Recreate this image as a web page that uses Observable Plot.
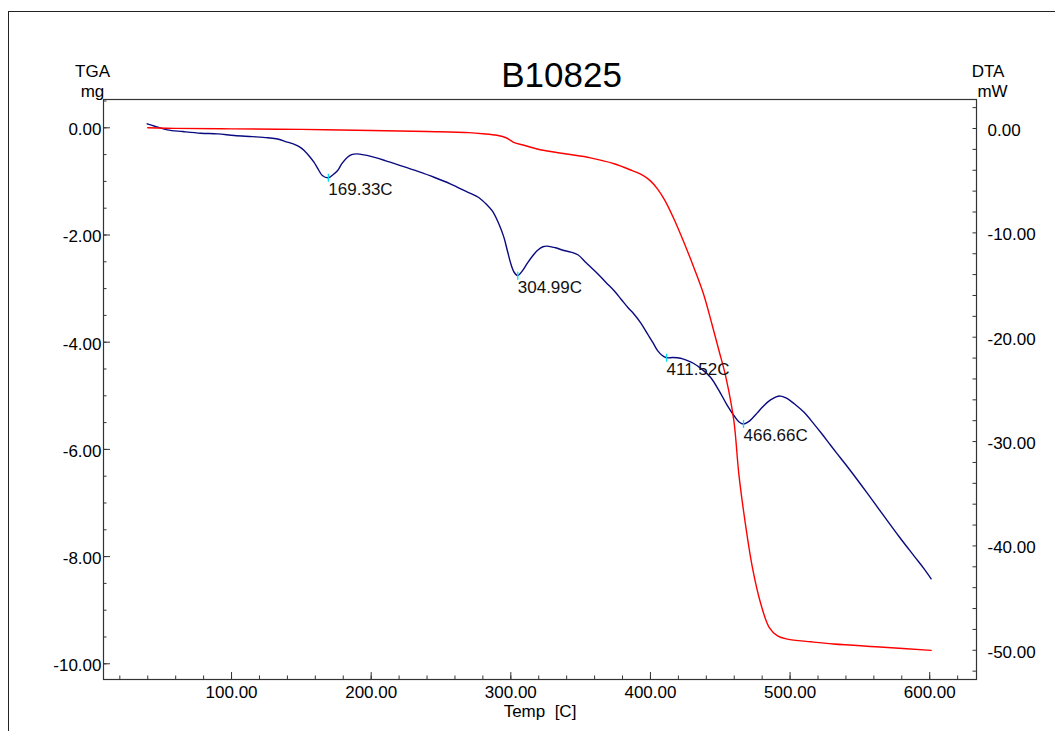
<!DOCTYPE html>
<html>
<head>
<meta charset="utf-8">
<script src="https://cdn.jsdelivr.net/npm/d3@7"></script>
<script src="https://cdn.jsdelivr.net/npm/@observablehq/plot@0.6"></script>
<style>
  body { margin: 0; background: #fff; }
  #wrap { position: relative; width: 1055px; height: 731px; overflow: hidden; background: #fff; }
  #wrap svg { position: absolute; left: 0; top: 0; }
  #border { position: absolute; left: 8px; top: 11px; width: 1200px; height: 900px;
            border-left: 1px solid #222; border-top: 1px solid #222; pointer-events: none; }
</style>
</head>
<body>
<div id="wrap"><div id="border"></div></div>
<script>
// ---- data ----
const title = "B10825";
const xLabel = "Temp\u00a0 [C]";
const leftLabel = ["TGA", "mg"];
const rightLabel = ["DTA", "mW"];

// TGA (red): temperature [C], mass [mg]
const tempTGA = [40, 60, 100, 150, 200, 240, 270, 280, 290, 297, 302, 310, 321, 340, 357, 374, 387, 394, 400, 405, 410, 417, 424, 431, 438, 444, 449, 454, 459.7, 463.3, 468, 473, 479, 485, 491, 498, 515, 531, 567, 601];
const massTGA = [0.00, -0.01, -0.02, -0.03, -0.05, -0.07, -0.09, -0.11, -0.14, -0.19, -0.27, -0.33, -0.41, -0.49, -0.56, -0.67, -0.80, -0.88, -0.99, -1.14, -1.34, -1.71, -2.14, -2.60, -3.10, -3.66, -4.15, -4.65, -5.46, -6.46, -7.39, -8.20, -8.88, -9.32, -9.48, -9.54, -9.59, -9.63, -9.69, -9.75];

// DTA (blue): temperature [C], heat flow [mW]
const tempDTA = [39.6, 45, 54, 65, 78, 90, 102, 115, 126, 133, 140, 145, 149.5, 152, 156, 159, 162, 165, 169.33, 172, 176, 179, 183, 186, 190, 197, 210, 221, 233, 245, 257, 269, 277, 283, 287, 291.4, 295, 297.5, 300, 302.5, 304.99, 308, 312, 316, 319, 323, 326, 332, 338, 343, 348, 354, 360, 365, 369, 374, 379, 384, 388, 393, 398, 402, 405, 408, 411.52, 416, 421.5, 426, 431, 437, 443, 449, 455, 460, 463.5, 466.66, 470, 473, 476.5, 481, 486, 490, 493, 497, 503, 510, 517, 523, 529, 536, 543, 555, 567, 578, 589, 596, 601];
const powerDTA = [0.45, 0.22, -0.13, -0.29, -0.45, -0.51, -0.67, -0.78, -0.89, -1.01, -1.31, -1.52, -1.83, -2.11, -2.71, -3.23, -3.89, -4.50, -4.72, -4.50, -4.02, -3.37, -2.75, -2.50, -2.43, -2.58, -3.07, -3.55, -4.09, -4.67, -5.32, -6.09, -6.61, -7.33, -7.94, -9.13, -10.41, -11.69, -12.96, -13.80, -14.10, -13.69, -12.87, -12.15, -11.69, -11.33, -11.27, -11.43, -11.69, -11.84, -12.10, -12.87, -13.64, -14.31, -14.87, -15.54, -16.36, -17.18, -17.75, -18.62, -19.70, -20.57, -21.26, -21.70, -21.97, -21.95, -22.01, -22.22, -22.52, -23.09, -23.83, -25.09, -26.53, -27.55, -28.12, -28.32, -28.12, -27.76, -27.25, -26.58, -26.01, -25.71, -25.64, -25.81, -26.37, -27.20, -28.30, -29.30, -30.35, -31.55, -32.75, -34.90, -37.10, -39.10, -41.00, -42.20, -43.15];

// DTA peak annotations
const peakTemps = [169.33, 304.99, 411.52, 466.66];
const peakLabels = ["169.33C", "304.99C", "411.52C", "466.66C"];

// axis ticks
const xTicks = [100, 200, 300, 400, 500, 600];
const xMinorTicks = [20, 40, 60, 80, 100, 120, 140, 160, 180, 200, 220, 240, 260, 280, 300, 320, 340, 360, 380, 400, 420, 440, 460, 480, 500, 520, 540, 560, 580, 600, 620];
const tgaTicks = [0, -2, -4, -6, -8, -10];
const tgaMinorTicks = [0.5, 0, -0.5, -1, -1.5, -2, -2.5, -3, -3.5, -4, -4.5, -5, -5.5, -6, -6.5, -7, -7.5, -8, -8.5, -9, -9.5, -10];
const dtaTicks = [0, -10, -20, -30, -40, -50];
const dtaMinorTicks = [2, 0, -2, -4, -6, -8, -10, -12, -14, -16, -18, -20, -22, -24, -26, -28, -30, -32, -34, -36, -38, -40, -42, -44, -46, -48, -50, -52];

// scale domains (left TGA axis, right DTA axis share the same vertical extent)
const xDomain = [8.3, 633.5];
const tgaDomain = [-10.293, 0.528];
const dtaDomain = [-52.8, 2.78];

// ---- layout ----
const W = 1055, H = 731;
const mL = 103, mR = 79, mT = 99, mB = 52;
const frameW = W - mL - mR, frameH = H - mT - mB;

const toTga = d3.scaleLinear(dtaDomain, tgaDomain);
const toDta = d3.scaleLinear(tgaDomain, dtaDomain);

const tga = tempTGA.map((t, i) => ({t, mg: massTGA[i]}));
const dta = tempDTA.map((t, i) => ({t, mw: powerDTA[i]}));
const peaks = peakTemps.map((t, i) => ({t, mw: powerDTA[tempDTA.indexOf(t)], label: peakLabels[i]}));

const vbar = {
  draw(ctx, size) {
    const h = Math.sqrt(size / Math.PI);
    ctx.moveTo(0, -h);
    ctx.lineTo(0, h);
  }
};

const axisColor = "#333";
const font = "'Liberation Sans', Arial, sans-serif";

const chart = Plot.plot({
  width: W,
  height: H,
  marginLeft: mL,
  marginRight: mR,
  marginTop: mT,
  marginBottom: mB,
  style: {fontFamily: font, fontSize: "17px", color: "#000", background: "transparent", overflow: "visible"},
  x: {domain: xDomain, axis: null},
  y: {domain: tgaDomain, axis: null},
  marks: [
    Plot.frame({stroke: axisColor, strokeWidth: 1.2}),
    // x ticks (inward)
    Plot.tickX(xMinorTicks, {x: d => d, insetTop: frameH - 3.5, stroke: axisColor}),
    Plot.tickX(xTicks, {x: d => d, insetTop: frameH - 7, stroke: axisColor}),
    // left TGA ticks
    Plot.tickY(tgaMinorTicks, {y: d => d, insetRight: frameW - 3.5, stroke: axisColor}),
    Plot.tickY(tgaTicks, {y: d => d, insetRight: frameW - 7, stroke: axisColor}),
    // right DTA ticks
    Plot.tickY(dtaMinorTicks, {y: d => toTga(d), insetLeft: frameW - 3.5, stroke: axisColor}),
    // axes labels
    Plot.axisX({ticks: xTicks, tickSize: 0, tickPadding: 6, tickFormat: d => d.toFixed(2), label: null, fontSize: 17}),
    Plot.axisY({ticks: tgaTicks, tickSize: 0, tickPadding: 2, dy: 2, tickFormat: d => d.toFixed(2), label: null, fontSize: 17}),
    Plot.axisY({anchor: "right", ticks: dtaTicks.map(d => toTga(d)), tickSize: 0, tickPadding: 11, dy: 2,
      tickFormat: d => (Math.round(toDta(d) * 100) / 100 + 0).toFixed(2), label: null, fontSize: 17}),
    // curves
    Plot.line(dta, {x: "t", y: d => toTga(d.mw), stroke: "#0a0a80", strokeWidth: 1.4, curve: "catmull-rom"}),
    Plot.line(tga, {x: "t", y: "mg", stroke: "#ff0000", strokeWidth: 1.4, curve: "catmull-rom"}),
    // peak markers
    Plot.dot(peaks, {x: "t", y: d => toTga(d.mw), symbol: vbar, r: 4, fill: "none", stroke: "#00e0f0", strokeWidth: 1.3}),
    Plot.text(peaks, {x: "t", y: d => toTga(d.mw), text: "label", textAnchor: "start", lineAnchor: "top", dy: 5, fontSize: 17, fill: "#111"}),
    // title & axis titles
    Plot.text([title], {text: d => d, frameAnchor: "top", lineAnchor: "middle", dx: 21.5, dy: -24, fontSize: 35, fill: "#000"}),
    Plot.text([leftLabel[0]], {text: d => d, frameAnchor: "top-left", textAnchor: "middle", lineAnchor: "middle", dx: -11, dy: -27.7, fontSize: 17}),
    Plot.text([leftLabel[1]], {text: d => d, frameAnchor: "top-left", textAnchor: "middle", lineAnchor: "middle", dx: -11, dy: -8.4, fontSize: 17}),
    Plot.text([rightLabel[0]], {text: d => d, frameAnchor: "top-right", textAnchor: "middle", lineAnchor: "middle", dx: 11.5, dy: -27.7, fontSize: 17}),
    Plot.text([rightLabel[1]], {text: d => d, frameAnchor: "top-right", textAnchor: "middle", lineAnchor: "middle", dx: 16, dy: -8.4, fontSize: 17}),
    Plot.text([xLabel], {text: d => d, frameAnchor: "bottom", textAnchor: "middle", lineAnchor: "middle", dx: 0, dy: 31.6, fontSize: 17})
  ]
});

document.getElementById("wrap").appendChild(chart);
</script>
</body>
</html>
